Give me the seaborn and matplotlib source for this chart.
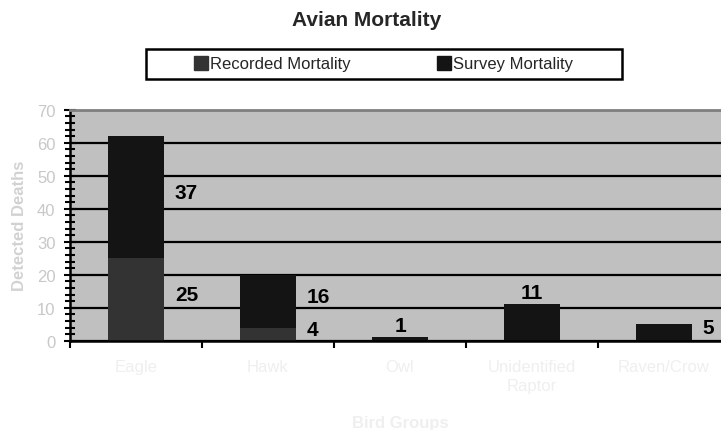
import numpy as np
import matplotlib
matplotlib.use('Agg')
import matplotlib.pyplot as plt
from matplotlib.ticker import MultipleLocator
from matplotlib.patches import Rectangle
from matplotlib.lines import Line2D
import seaborn as sns

# data
categories = ['Eagle', 'Hawk', 'Owl', 'Unidentified\nRaptor', 'Raven/Crow']
recorded = [25, 4, 0, 0, 0]
survey = [37, 16, 1, 11, 5]
label_side = ['right', 'right', 'above', 'above', 'right']

recorded_color = '#333333'
survey_color = '#141414'

sns.set_style('white')
plt.rcParams['font.family'] = ['Liberation Sans', 'DejaVu Sans']

totals = [r + s for r, s in zip(recorded, survey)]

fig = plt.figure(figsize=(7.21, 4.31), dpi=100)
ax = fig.add_axes([70 / 721, (431 - 341.7) / 431, 660 / 721, 231 / 431])
ax.set_facecolor('#C0C0C0')

# stacked bars: totals in survey colour, recorded drawn over the bottom part
sns.barplot(x=list(range(len(categories))), y=totals, color=survey_color,
            saturation=1, width=0.42, edgecolor='none', ax=ax, native_scale=True)
sns.barplot(x=list(range(len(categories))), y=recorded, color=recorded_color,
            saturation=1, width=0.42, edgecolor='none', ax=ax, native_scale=True)

ax.set_xlim(-0.5, len(categories) - 0.5)
ax.set_ylim(0, 70)

# grid
ax.set_yticks(range(0, 71, 10))
ax.yaxis.set_minor_locator(MultipleLocator(2))
ax.yaxis.grid(True, which='major', color='black', lw=1.6)
ax.set_axisbelow(True)

# ticks
ax.set_xticks(np.arange(-0.5, len(categories), 1.0))
ax.set_xticklabels([])
ax.set_xticks(range(len(categories)), minor=True)
ax.set_xticklabels(categories, minor=True, color='#EFEFEF', fontsize=12, linespacing=1.35)
ax.tick_params(axis='x', which='major', direction='out', length=5, width=1.5,
               color='black', bottom=True)
ax.tick_params(axis='x', which='minor', length=0, pad=13)
ax.tick_params(axis='y', which='both', direction='inout', width=1.5,
               color='black', left=True, labelsize=12, labelcolor='#C8C8C8', pad=6)
ax.tick_params(axis='y', which='major', length=9)
ax.tick_params(axis='y', which='minor', length=7)

for side in ['left', 'bottom']:
    ax.spines[side].set_color('black')
    ax.spines[side].set_linewidth(1.8)
ax.spines['top'].set_color('#808080')
ax.spines['top'].set_linewidth(2)
ax.spines['right'].set_visible(False)

ax.set_xlabel('Bird Groups', fontsize=12, fontweight='bold', color='#EFEFEF', labelpad=16)
ax.set_ylabel('Detected Deaths', fontsize=12, fontweight='bold', color='#D2D2D2', labelpad=7)

# value labels
for i, (r, s, side) in enumerate(zip(recorded, survey, label_side)):
    if side == 'right':
        if r > 0:
            ax.annotate(str(r), (i + 0.21, r / 2 + 1.5), xytext=(8, 0),
                        textcoords='offset points', ha='left', va='center',
                        fontsize=15, fontweight='bold', color='black')
        ax.annotate(str(s), (i + 0.21, r + s / 2 + 1.5), xytext=(8, 0),
                    textcoords='offset points', ha='left', va='center',
                    fontsize=15, fontweight='bold', color='black')
    else:
        ax.annotate(str(s), (i, r + s), xytext=(0, 2),
                    textcoords='offset points', ha='center', va='bottom',
                    fontsize=15, fontweight='bold', color='black')

# title
fig.text(367 / 721, 1 - 20 / 431, 'Avian Mortality', ha='center', va='center',
         fontsize=15, fontweight='bold')

# legend with a plain black box
fig.add_artist(Rectangle((146 / 721, 1 - 80 / 431), 476 / 721, 30 / 431,
                         transform=fig.transFigure, facecolor='white',
                         edgecolor='black', lw=1.8))
handles = [Line2D([], [], marker='s', linestyle='none', markersize=9.5,
                  color=recorded_color, label='Recorded Mortality'),
           Line2D([], [], marker='s', linestyle='none', markersize=9.5,
                  color=survey_color, label='Survey Mortality')]
fig.legend(handles=handles, loc='center', bbox_to_anchor=(384 / 721, 1 - 65 / 431),
           ncol=2, frameon=False, fontsize=12, handlelength=0.8,
           handletextpad=0.15, columnspacing=5.2, borderpad=0)

fig.savefig('out.png', dpi=100)
